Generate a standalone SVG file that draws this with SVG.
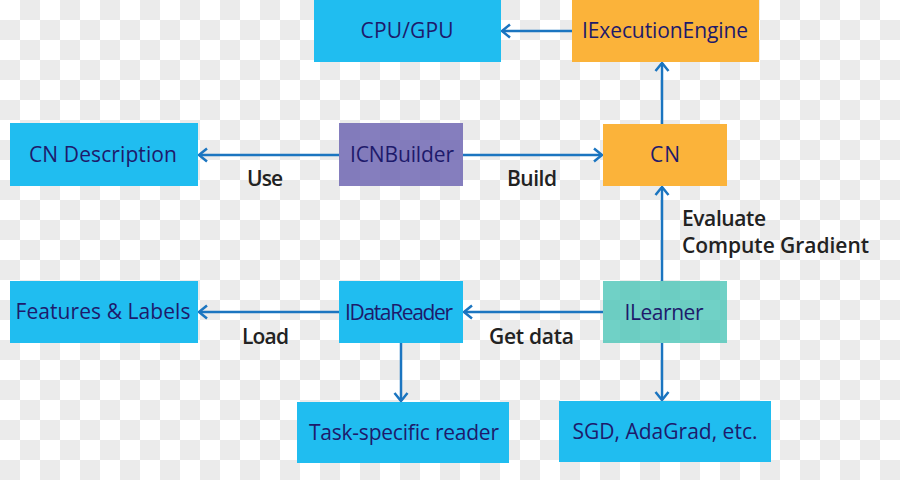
<svg xmlns="http://www.w3.org/2000/svg" width="900" height="480" viewBox="0 0 900 480">
<style>
.cyan{fill:#20bdf0}
.orange{fill:#fbb33a}
.purple{fill:#6a62b0;fill-opacity:0.82}
.teal{fill:#4cc5b8;fill-opacity:0.8}
.nt{font-family:"Open Sans","Noto Sans",sans-serif;font-size:21px;fill:#1e1a6b;text-anchor:middle}
.lt{font-family:"Open Sans","Noto Sans",sans-serif;font-size:21px;font-weight:600;fill:#222222}
.edge{stroke:#1b75c0;stroke-width:2.5;fill:none;marker-end:url(#ah)}
</style>
<defs>
<pattern id="chk" width="40" height="40" patternUnits="userSpaceOnUse">
<rect width="40" height="40" fill="#ffffff"/>
<rect x="20" y="0" width="20" height="20" fill="#ebebeb"/>
<rect x="0" y="20" width="20" height="20" fill="#ebebeb"/>
</pattern>
<marker id="ah" markerUnits="userSpaceOnUse" markerWidth="14" markerHeight="16" refX="11" refY="8" orient="auto">
<path d="M3,1.5 L11,8 L3,14.5" fill="none" stroke="#1b75c0" stroke-width="2.5"/>
</marker>
</defs>
<rect width="900" height="480" fill="url(#chk)"/>

<g id="connectors">
<line class="edge" x1="572" y1="31" x2="502" y2="31"/>
<line class="edge" x1="662" y1="124" x2="662" y2="63"/>
<line class="edge" x1="339" y1="155" x2="199" y2="155"/>
<line class="edge" x1="463" y1="155" x2="602" y2="155"/>
<line class="edge" x1="662" y1="281" x2="662" y2="187"/>
<line class="edge" x1="603" y1="312" x2="464" y2="312"/>
<line class="edge" x1="339" y1="312" x2="199" y2="312"/>
<line class="edge" x1="401" y1="343" x2="401" y2="401"/>
<line class="edge" x1="662" y1="343" x2="662" y2="400"/>
</g>

<g id="labels">
<text class="lt" x="247" y="186" textLength="36">Use</text>
<text class="lt" x="507" y="186" textLength="50">Build</text>
<text class="lt" x="682" y="226" textLength="84">Evaluate</text>
<text class="lt" x="682" y="253" textLength="187">Compute Gradient</text>
<text class="lt" x="242" y="344" textLength="47">Load</text>
<text class="lt" x="489" y="344" textLength="85">Get data</text>
</g>

<g id="cpugpu"><rect class="cyan" x="314" y="0" width="187" height="62"/><text class="nt" x="407" y="38" textLength="93">CPU/GPU</text></g>
<g id="iexec"><rect class="orange" x="572" y="0" width="187" height="62"/><text class="nt" x="665" y="38" textLength="166">IExecutionEngine</text></g>
<g id="cndesc"><rect class="cyan" x="10" y="123" width="188" height="63"/><text class="nt" x="103" y="162" textLength="148">CN Description</text></g>
<g id="icnbuilder"><rect class="purple" x="339" y="123" width="124" height="63"/><text class="nt" x="402" y="162" textLength="104">ICNBuilder</text></g>
<g id="cn"><rect class="orange" x="603" y="124" width="124" height="62"/><text class="nt" x="665" y="162" textLength="30">CN</text></g>
<g id="features"><rect class="cyan" x="10" y="281" width="188" height="62"/><text class="nt" x="103" y="319" textLength="175">Features &amp; Labels</text></g>
<g id="idatareader"><rect class="cyan" x="339" y="281" width="124" height="62"/><text class="nt" x="399" y="320" textLength="108">IDataReader</text></g>
<g id="ilearner"><rect class="teal" x="603" y="281" width="124" height="62"/><text class="nt" x="664" y="320" textLength="79">ILearner</text></g>
<g id="taskreader"><rect class="cyan" x="297" y="402" width="212" height="61"/><text class="nt" x="404" y="440" textLength="190">Task-specific reader</text></g>
<g id="sgd"><rect class="cyan" x="559" y="401" width="212" height="61"/><text class="nt" x="665" y="439" textLength="185">SGD, AdaGrad, etc.</text></g>
</svg>
